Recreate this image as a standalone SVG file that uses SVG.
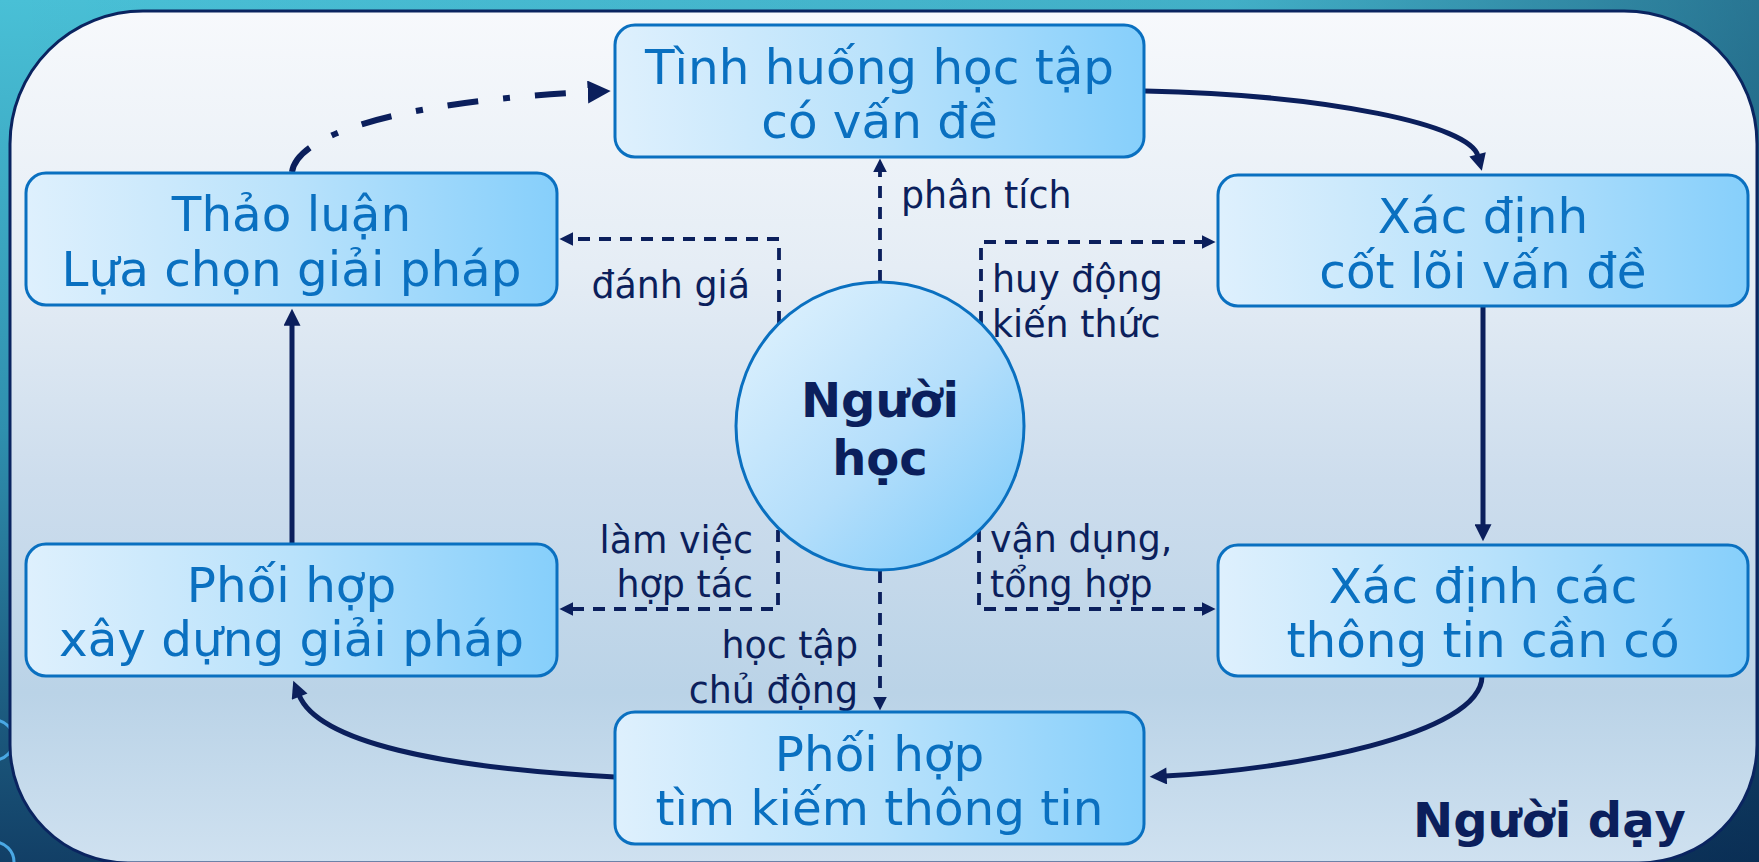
<svg xmlns="http://www.w3.org/2000/svg" width="1759" height="862" viewBox="0 0 1759 862">
<defs>
<linearGradient id="bg" x1="0" y1="0" x2="0" y2="862" gradientUnits="userSpaceOnUse">
<stop offset="0" stop-color="#49c0d6"/><stop offset="0.5" stop-color="#2f8fae"/><stop offset="1" stop-color="#123f66"/>
</linearGradient>
<linearGradient id="bgh" x1="0" y1="0" x2="1759" y2="0" gradientUnits="userSpaceOnUse">
<stop offset="0" stop-color="#001a40" stop-opacity="0"/><stop offset="0.7" stop-color="#001a40" stop-opacity="0.1"/><stop offset="1" stop-color="#001a40" stop-opacity="0.45"/>
</linearGradient>
<linearGradient id="panel" x1="0" y1="11" x2="0" y2="863" gradientUnits="userSpaceOnUse">
<stop offset="0" stop-color="#f7f9fc"/><stop offset="0.3" stop-color="#e5edf5"/><stop offset="0.55" stop-color="#cddded"/><stop offset="0.8" stop-color="#bad3e7"/><stop offset="1" stop-color="#cfe1f0"/>
</linearGradient>
<linearGradient id="node" x1="0" y1="0" x2="1" y2="0">
<stop offset="0" stop-color="#def0fd"/><stop offset="0.5" stop-color="#b9e2fb"/><stop offset="1" stop-color="#86cffb"/>
</linearGradient>
<linearGradient id="circ" x1="0.15" y1="0.1" x2="0.9" y2="0.9">
<stop offset="0" stop-color="#d9effd"/><stop offset="0.55" stop-color="#b3defb"/><stop offset="1" stop-color="#86cefa"/>
</linearGradient>
<marker id="hs" viewBox="0 0 10 10" refX="1" refY="5" markerWidth="19" markerHeight="17" markerUnits="userSpaceOnUse" orient="auto">
<path d="M0,0 L10,5 L0,10 z" fill="#0b1f5c"/>
</marker>
<marker id="hd" viewBox="0 0 10 10" refX="1" refY="5" markerWidth="14" markerHeight="14" markerUnits="userSpaceOnUse" orient="auto">
<path d="M0,0 L10,5 L0,10 z" fill="#0b1f5c"/>
</marker>
<marker id="hdd" viewBox="0 0 10 10" refX="1" refY="5" markerWidth="23" markerHeight="23" markerUnits="userSpaceOnUse" orient="auto">
<path d="M0,0 L10,5 L0,10 z" fill="#0b1f5c"/>
</marker>
</defs>
<style>
.box{fill:url(#node);stroke:#0a70c0;stroke-width:3}
.nt{font-family:"DejaVu Sans","Liberation Sans",sans-serif;font-size:48.4px;fill:#0a70c0;text-anchor:middle}
.lb{font-family:"DejaVu Sans","Liberation Sans",sans-serif;font-size:36.4px;fill:#0b1f5c}
.bold{font-family:"DejaVu Sans","Liberation Sans",sans-serif;font-weight:bold;fill:#0b1f5c}
.solid{fill:none;stroke:#0b1f5c;stroke-width:5;marker-end:url(#hs)}
.dash{fill:none;stroke:#0b1f5c;stroke-width:3.8;stroke-dasharray:12 9;marker-end:url(#hd)}
</style>
<rect x="0" y="0" width="1759" height="862" fill="url(#bg)"/>
<rect x="0" y="0" width="1759" height="862" fill="url(#bgh)"/>
<circle cx="-6" cy="740" r="20" fill="none" stroke="#4aa8e4" stroke-width="3"/>
<circle cx="-6" cy="862" r="20" fill="none" stroke="#4aa8e4" stroke-width="3"/>
<path d="M143,11 H1624 A133,133 0 0 1 1757,144 V745 A118,118 0 0 1 1639,863 H128 A118,118 0 0 1 10,745 V144 A133,133 0 0 1 143,11 Z" fill="url(#panel)" stroke="#0a2460" stroke-width="3"/>

<g id="connectors">
<path class="solid" d="M1145,91 C1330,95 1470,125 1478,156"/>
<path class="solid" d="M1483,307 V526"/>
<path class="solid" d="M1482,676 C1482,735 1290,770 1165,776"/>
<path class="solid" d="M615,777 C440,768 318,742 299,695"/>
<path class="solid" d="M292,544 V324"/>
<path d="M292,172 C298,130 420,100 590,92" fill="none" stroke="#0b1f5c" stroke-width="6" stroke-dasharray="31 25 7 25" marker-end="url(#hdd)"/>
<path class="dash" d="M880,282 V171"/>
<path class="dash" d="M779,323 V239 H572"/>
<path class="dash" d="M981,323 V242 H1203"/>
<path class="dash" d="M778,530 V609 H572"/>
<path class="dash" d="M880,571 V698"/>
<path class="dash" d="M979,530 V609 H1203"/>
</g>

<g id="labels">
<text class="lb" x="901" y="208">phân tích</text>
<text class="lb" x="750" y="298" text-anchor="end">đánh giá</text>
<text class="lb" x="992" y="292">huy động</text>
<text class="lb" x="992" y="337">kiến thức</text>
<text class="lb" x="753" y="553" text-anchor="end">làm việc</text>
<text class="lb" x="753" y="597" text-anchor="end">hợp tác</text>
<text class="lb" x="858" y="658" text-anchor="end">học tập</text>
<text class="lb" x="858" y="703" text-anchor="end">chủ động</text>
<text class="lb" x="990" y="552">vận dụng,</text>
<text class="lb" x="990" y="597">tổng hợp</text>
</g>

<g id="n-tinhhuong">
<rect class="box" x="615" y="25" width="529" height="132" rx="20"/>
<text class="nt" x="879.5" y="84">Tình huống học tập</text>
<text class="nt" x="879.5" y="138">có vấn đề</text>
</g>
<g id="n-thaoluan">
<rect class="box" x="26" y="173" width="531" height="132" rx="20"/>
<text class="nt" x="291.5" y="231">Thảo luận</text>
<text class="nt" x="291.5" y="286">Lựa chọn giải pháp</text>
</g>
<g id="n-xacdinh">
<rect class="box" x="1218" y="175" width="530" height="131" rx="20"/>
<text class="nt" x="1483" y="233">Xác định</text>
<text class="nt" x="1483" y="288">cốt lõi vấn đề</text>
</g>
<g id="n-xacdinhthongtin">
<rect class="box" x="1218" y="545" width="530" height="131" rx="20"/>
<text class="nt" x="1483" y="603">Xác định các</text>
<text class="nt" x="1483" y="657">thông tin cần có</text>
</g>
<g id="n-phoihopxaydung">
<rect class="box" x="26" y="544" width="531" height="132" rx="20"/>
<text class="nt" x="291.5" y="602">Phối hợp</text>
<text class="nt" x="291.5" y="656">xây dựng giải pháp</text>
</g>
<g id="n-phoihoptimkiem">
<rect class="box" x="615" y="712" width="529" height="132" rx="20"/>
<text class="nt" x="879.5" y="771">Phối hợp</text>
<text class="nt" x="879.5" y="825">tìm kiếm thông tin</text>
</g>
<g id="n-nguoihoc">
<circle cx="880" cy="426" r="144" fill="url(#circ)" stroke="#0a70c0" stroke-width="3"/>
<text class="bold" x="880" y="417" font-size="48" text-anchor="middle">Người</text>
<text class="bold" x="880" y="475" font-size="48" text-anchor="middle">học</text>
</g>
<g id="n-nguoiday">
<text class="bold" x="1413" y="837" font-size="48">Người dạy</text>
</g>
</svg>
